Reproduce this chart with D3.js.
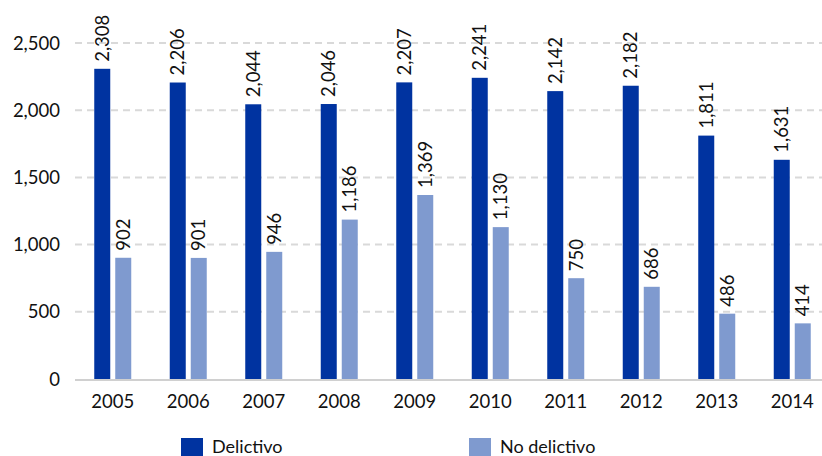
<!DOCTYPE html>
<html>
<head>
<meta charset="utf-8">
<script src="https://cdn.jsdelivr.net/npm/d3@7"></script>
<style>
  html, body { margin: 0; padding: 0; background: #fff; }
  svg { display: block; font-family: Lato, "Open Sans", sans-serif; }
</style>
</head>
<body>
<svg id="chart" width="822" height="456"></svg>
<script>
const years = ["2005","2006","2007","2008","2009","2010","2011","2012","2013","2014"];
const delictivo = [2308, 2206, 2044, 2046, 2207, 2241, 2142, 2182, 1811, 1631];
const noDelictivo = [902, 901, 946, 1186, 1369, 1130, 750, 686, 486, 414];
const yTicks = [0, 500, 1000, 1500, 2000, 2500];
const seriesNames = ["Delictivo", "No delictivo"];
const seriesColors = ["#0033a0", "#7f9acf"];

const W = 822, H = 456;
const svg = d3.select("#chart");
const fmt = d3.format(",");
const fs = 18.5;

const x = d3.scaleBand().domain(years).range([75, 830]).padding(0);
const y = d3.scaleLinear().domain([0, 2500]).range([379, 43]);

// gridlines
svg.append("g").selectAll("line").data(yTicks.filter(d => d > 0)).join("line")
  .attr("x1", 75).attr("x2", W)
  .attr("y1", d => y(d)).attr("y2", d => y(d))
  .attr("stroke", "#d9d9d9").attr("stroke-width", 2)
  .attr("stroke-dasharray", "7,5");

// y tick labels
svg.append("g").selectAll("text").data(yTicks).join("text")
  .attr("x", 60).attr("y", d => y(d))
  .attr("dy", "0.36em")
  .attr("text-anchor", "end")
  .attr("font-size", fs).attr("fill", "#111")
  .text(d => fmt(d));

const bw = 16;
const series = [delictivo, noDelictivo];
const offsets = [-18.5, 2.5];

series.forEach((vals, si) => {
  const g = svg.append("g");
  g.selectAll("rect").data(vals).join("rect")
    .attr("x", (d, i) => x(years[i]) + x.bandwidth() / 2 + offsets[si])
    .attr("y", d => y(d))
    .attr("width", bw)
    .attr("height", d => y(0) - y(d))
    .attr("fill", seriesColors[si]);
  g.selectAll("text").data(vals).join("text")
    .attr("transform", (d, i) => {
      const cx = x(years[i]) + x.bandwidth() / 2 + offsets[si] + bw / 2;
      return `translate(${cx},${y(d) - 7}) rotate(-90)`;
    })
    .attr("dy", "0.36em")
    .attr("text-anchor", "start")
    .attr("font-size", fs).attr("fill", "#111")
    .text(d => fmt(d));
});

// baseline axis
svg.append("line")
  .attr("x1", 75).attr("x2", W)
  .attr("y1", y(0) + 1).attr("y2", y(0) + 1)
  .attr("stroke", "#d0d0d0").attr("stroke-width", 2);

// x labels
svg.append("g").selectAll("text").data(years).join("text")
  .attr("x", d => x(d) + x.bandwidth() / 2)
  .attr("y", 408)
  .attr("text-anchor", "middle")
  .attr("font-size", fs).attr("fill", "#111")
  .text(d => d);

// legend
const legendX = [181, 469];
const lg = svg.append("g").selectAll("g").data(seriesNames).join("g")
  .attr("transform", (d, i) => `translate(${legendX[i]},438)`);
lg.append("rect").attr("width", 22).attr("height", 22)
  .attr("fill", (d, i) => seriesColors[i]);
lg.append("text").attr("x", 31).attr("y", 15)
  .attr("font-size", 18).attr("fill", "#111")
  .text(d => d);
</script>
</body>
</html>
